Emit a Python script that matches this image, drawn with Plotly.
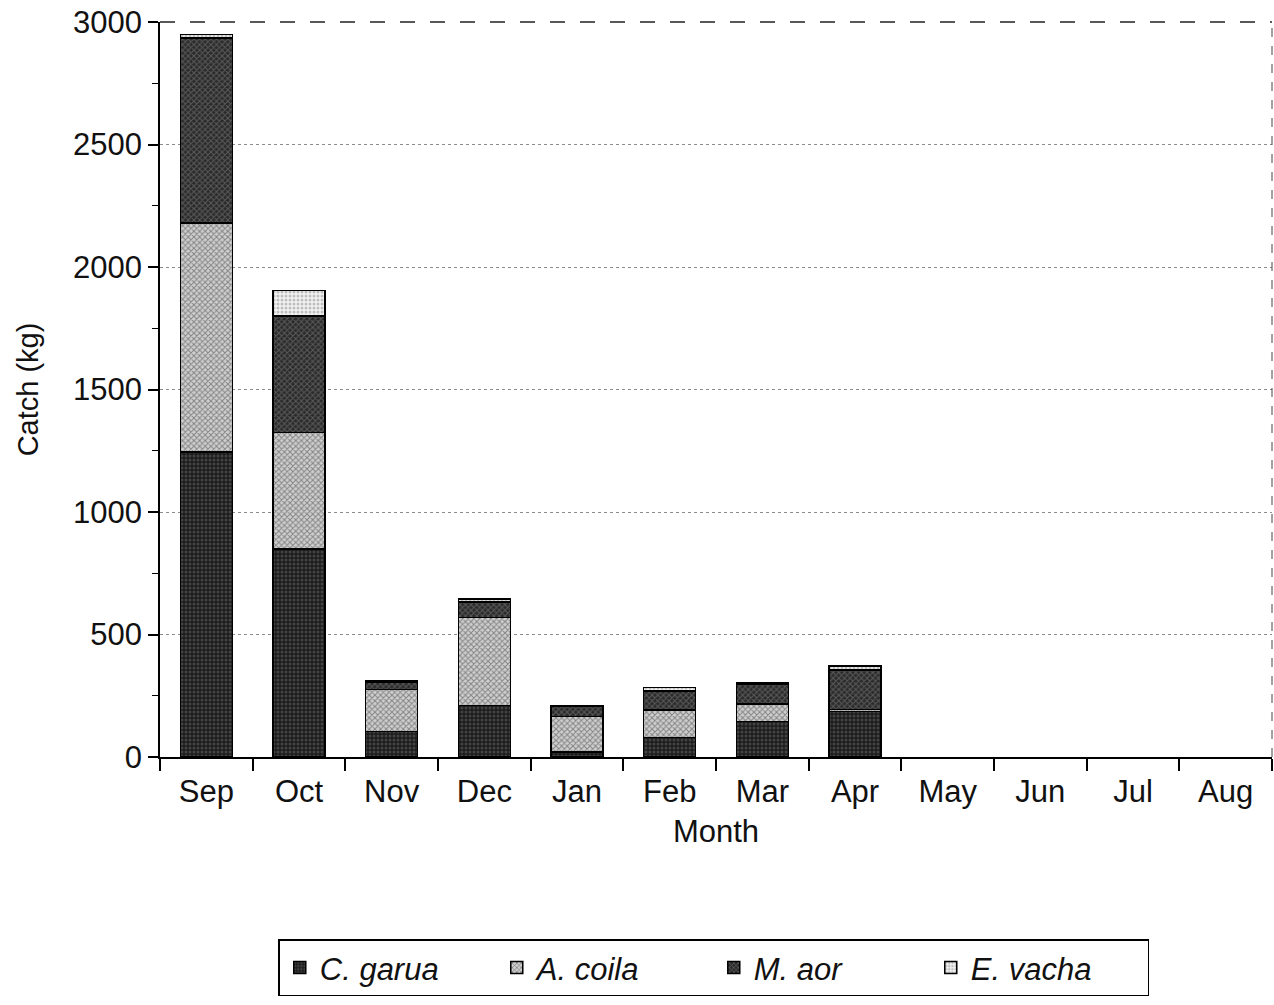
import plotly.graph_objects as go

# Monthly catch by species (kg)
months = ["Sep", "Oct", "Nov", "Dec", "Jan", "Feb", "Mar", "Apr",
          "May", "Jun", "Jul", "Aug"]
c_garua = [1245, 850, 105, 210, 20, 80, 145, 185, 0, 0, 0, 0]
a_coila = [935, 475, 170, 360, 145, 112, 72, 8, 0, 0, 0, 0]
m_aor = [755, 475, 30, 62, 42, 78, 78, 163, 0, 0, 0, 0]
e_vacha = [15, 105, 5, 12, 3, 14, 7, 15, 0, 0, 0, 0]
y_ticks = [0, 500, 1000, 1500, 2000, 2500, 3000]

FONT = "Liberation Sans, Arial, sans-serif"

series = [
    ("C. garua", c_garua, "#1c1c1c", "#6a6a6a", "."),
    ("A. coila", a_coila, "#cfcfcf", "#3a3a3a", "x"),
    ("M. aor", m_aor, "#2a2a2a", "#8a8a8a", "x"),
    ("E. vacha", e_vacha, "#f2f2f2", "#8a8a8a", "."),
]

fig = go.Figure()
for name, vals, bg, fg, shape in series:
    # months with no catch get no bar segment at all
    shown = [v if v > 0 else None for v in vals]
    fig.add_trace(go.Bar(
        x=months, y=shown, name=f"<i>{name}</i>",
        marker=dict(
            color=bg,
            line=dict(color="#000000", width=1.5),
            pattern=dict(shape=shape, fgcolor=fg, bgcolor=bg,
                         size=4, solidity=0.45),
        ),
    ))

fig.update_layout(
    barmode="stack",
    bargap=0.44,
    width=1274, height=1005,
    margin=dict(l=160, r=2, t=22, b=248),
    paper_bgcolor="white", plot_bgcolor="white",
    font=dict(family=FONT, size=31, color="#111111"),
    showlegend=True,
    legend=dict(
        orientation="h",
        x=0.498, xanchor="center",
        y=-0.287, yanchor="middle",
        bordercolor="#000000", borderwidth=1.5,
        font=dict(family=FONT, size=31, color="#111111"),
        entrywidth=172, entrywidthmode="pixels",
        traceorder="normal",
    ),
)

fig.update_xaxes(
    type="category",
    showline=True, linecolor="#000000", linewidth=1.5,
    ticks="outside", tickson="boundaries", ticklen=12,
    tickcolor="#000000", tickwidth=1.5,
    ticklabelstandoff=6,
    showgrid=False,
    tickfont=dict(family=FONT, size=31),
    title=dict(text="Month", font=dict(family=FONT, size=31), standoff=12),
)

fig.update_yaxes(
    range=[0, 3000],
    tickvals=y_ticks,
    showline=True, linecolor="#000000", linewidth=1.5,
    ticks="outside", ticklen=10, tickcolor="#000000", tickwidth=1.5,
    minor=dict(dtick=250, ticks="outside", ticklen=6,
               tickcolor="#000000", tickwidth=1, showgrid=False),
    showgrid=True, gridcolor="#8c8c8c", gridwidth=1, griddash="dot",
    zeroline=False,
    tickfont=dict(family=FONT, size=31),
    title=dict(text="Catch (kg)", font=dict(family=FONT, size=29), standoff=26),
)

# dashed frame along the top and right of the plotting area
fig.add_shape(type="line", xref="paper", yref="paper", x0=0, x1=1, y0=1, y1=1,
              line=dict(color="#222222", width=1.5, dash="longdash"))
fig.add_shape(type="line", xref="paper", yref="paper", x0=1, x1=1, y0=0, y1=1,
              line=dict(color="#444444", width=1, dash="dash"))

fig.write_html("out.html")
